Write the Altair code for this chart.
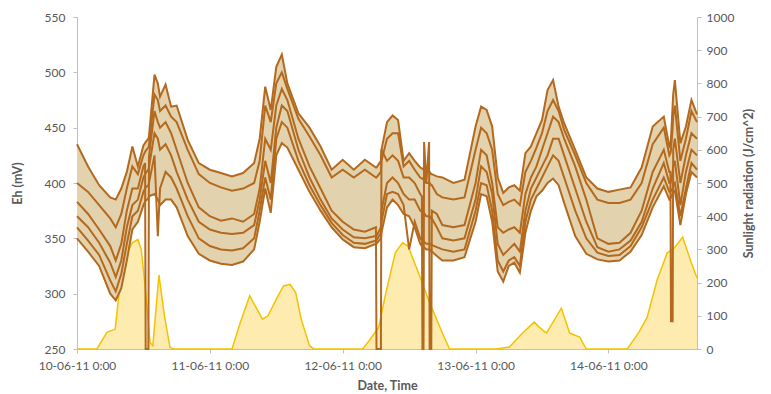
import altair as alt
import pandas as pd

# ---- Eh electrode series (mV), hours after 10-06-11 0:00 ----
hours = [0, 2, 4, 6, 7, 8, 9, 10, 11, 12, 12.3, 12.4, 12.9, 13, 14, 14.6, 15, 16, 17, 18,
         20, 22, 24, 26, 28, 30, 32, 33, 34, 35, 36, 37, 38, 40, 42, 44, 46, 48, 50, 52,
         54, 54.1, 54.9, 55, 56, 57, 58, 59, 60, 61, 62, 62.3, 62.4, 62.6, 62.7, 63.1, 63.6,
         63.7, 64.0, 64.1, 65, 66, 68, 70, 72, 73, 74, 75, 76, 77, 78, 79, 80, 81, 82, 83,
         84, 85, 86, 87, 88, 90, 92, 94, 96, 98, 100, 102, 104, 106, 107, 107.2, 107.3,
         107.6, 107.7, 108, 109, 110, 111, 112]

eh_1 = [435, 415, 398, 387, 385, 395, 410, 433, 415, 434, 436, 437, 440, 442, 498, 490, 478, 489, 469, 470,
        439, 418, 412, 409, 406, 409, 418, 440, 487, 466, 505, 516, 490, 463, 450, 433, 412, 421, 412, 421,
        414, 414, 420, 430, 455, 461, 457, 420, 427, 420, 414, 413, 413, 412, 412, 410, 410,
        410, 408, 408, 406, 405, 400, 403, 451, 469, 466, 451, 405, 391, 396, 398, 393, 427, 433, 445,
        457, 484, 493, 469, 454, 430, 405, 395, 392, 394, 396, 414, 451, 460, 433, 435, 440,
        470, 480, 493, 436, 451, 475, 462]
eh_2 = [400, 392, 380, 368, 360, 372, 395, 415, 408, 425, 428, 429, 432, 434, 480, 475, 465, 470, 460, 455,
        430, 408, 400, 396, 393, 395, 400, 420, 470, 455, 490, 500, 485, 458, 442, 425, 405, 412, 405, 412,
        405, 405, 410, 420, 440, 445, 445, 415, 420, 412, 405, 404, 404, 403, 403, 400, 400,
        400, 398, 398, 390, 387, 385, 387, 430, 450, 445, 430, 390, 380, 383, 385, 380, 410, 420, 432,
        445, 465, 475, 465, 448, 425, 400, 385, 382, 382, 385, 400, 435, 450, 425, 427, 430,
        450, 460, 470, 420, 440, 465, 455]
eh_3 = [383, 372, 358, 343, 330, 345, 375, 395, 395, 415, 418, 250, 250, 424, 465, 455, 450, 455, 445, 430,
        400, 378, 370, 366, 368, 365, 372, 395, 440, 430, 470, 485, 475, 440, 415, 395, 375, 365, 358, 356,
        360, 250, 250, 430, 420, 425, 420, 405, 405, 400, 390, 388, 250, 250, 437, 400, 437,
        250, 250, 375, 372, 362, 360, 362, 400, 430, 425, 400, 360, 355, 358, 360, 355, 390, 405, 415,
        430, 445, 460, 455, 440, 415, 385, 350, 345, 346, 355, 375, 410, 430, 410, 410, 275,
        275, 430, 440, 400, 425, 445, 440]
eh_4 = [370, 360, 346, 328, 315, 330, 360, 380, 385, 405, 408, 409, 412, 414, 445, 440, 430, 435, 425, 410,
        385, 365, 358, 355, 354, 355, 362, 385, 420, 400, 450, 470, 465, 430, 405, 385, 368, 358, 351, 350,
        352, 352, 360, 375, 400, 405, 400, 390, 385, 385, 375, 374, 374, 373, 373, 370, 370,
        370, 368, 368, 360, 350, 348, 350, 385, 415, 410, 390, 345, 335, 340, 345, 338, 375, 395, 405,
        415, 425, 440, 440, 425, 395, 365, 342, 338, 340, 348, 365, 395, 418, 400, 400, 402,
        410, 415, 420, 380, 410, 430, 425]
eh_5 = [360, 348, 335, 312, 302, 318, 345, 370, 375, 392, 395, 396, 398, 400, 425, 352, 395, 410, 405, 395,
        370, 350, 343, 340, 339, 341, 350, 375, 405, 385, 440, 455, 450, 420, 398, 380, 364, 353, 346, 345,
        348, 348, 355, 365, 390, 392, 390, 380, 340, 365, 350, 348, 348, 347, 347, 345, 345,
        345, 344, 344, 342, 340, 338, 340, 375, 400, 398, 375, 330, 320, 330, 333, 325, 365, 385, 395,
        405, 415, 425, 420, 405, 375, 350, 337, 334, 335, 343, 360, 385, 405, 392, 392, 393,
        395, 398, 400, 370, 395, 418, 412]
eh_6 = [350, 338, 325, 300, 294, 305, 330, 358, 365, 380, 383, 384, 386, 388, 390, 385, 380, 385, 385, 378,
        352, 336, 330, 327, 326, 329, 340, 365, 395, 373, 425, 436, 432, 412, 392, 375, 360, 349, 342, 341,
        345, 345, 350, 355, 378, 385, 380, 372, 370, 360, 345, 343, 343, 342, 342, 340, 340,
        340, 338, 338, 334, 330, 330, 333, 365, 390, 388, 365, 320, 311, 325, 328, 319, 355, 375, 388,
        393, 400, 404, 398, 382, 352, 336, 331, 329, 330, 338, 353, 378, 397, 385, 386, 387,
        390, 392, 393, 362, 390, 410, 405]

# ---- Sunlight radiation (J/cm^2) ----
sun_hours = [0, 3.6, 5.4, 6.9, 7.8, 8.8, 10, 11, 11.6, 12.3, 13.2, 13.7, 14.8, 15.8, 16.8, 17.5,
             28, 29.5, 31.2, 32.2, 33.5, 34.5, 36, 37.3, 38.5, 39.5, 40.5, 42, 42.8,
             51.6, 53, 54.5, 55.8, 57.5, 58.8, 59.8, 61.7, 63.5, 66, 67.3,
             75.8, 78.1, 80.5, 82.6, 83.5, 84.8, 87.5, 89, 90.8, 92,
             99.4, 101.5, 103, 104.8, 106.6, 107.9, 109.4, 111, 112]
sun_vals = [0, 0, 50, 60, 200, 280, 320, 330, 300, 190, 20, 10, 223, 100, 5, 0,
            0, 80, 160, 130, 90, 100, 150, 190, 195, 170, 90, 10, 0,
            0, 30, 66, 170, 290, 320, 310, 229, 148, 48, 0,
            0, 6, 48, 81, 66, 48, 123, 48, 36, 0,
            0, 50, 96, 208, 289, 304, 337, 259, 214]

day_ticks = [0, 24, 48, 72, 96]
day_labels = ["10-06-11 0:00", "11-06-11 0:00", "12-06-11 0:00", "13-06-11 0:00", "14-06-11 0:00"]
eh_ticks = [250, 300, 350, 400, 450, 500, 550]
sun_ticks = [0, 100, 200, 300, 400, 500, 600, 700, 800, 900, 1000]

wide = pd.DataFrame({"h": hours, "L1": eh_1, "L2": eh_2, "L3": eh_3,
                     "L4": eh_4, "L5": eh_5, "L6": eh_6})
long = wide.melt("h", var_name="series", value_name="eh")
sun = pd.DataFrame({"h": sun_hours, "sun": sun_vals})

FONT = "Lato"
axis_style = dict(domainColor="#bfbfbf", tickColor="#bfbfbf", labelColor="#595959",
                  labelFont=FONT, labelFontSize=12, titleFont=FONT, titleFontSize=12.5,
                  titleColor="#595959", titleFontWeight="bold", tickSize=4, grid=False,
                  labelOverlap=False)

label_expr = "[" + ",".join("'%s'" % s for s in day_labels) + "][round(datum.value/24)]"
x_enc = alt.X("h:Q", scale=alt.Scale(domain=[0, 112], nice=False, zero=False),
              axis=alt.Axis(values=day_ticks, labelExpr=label_expr, title="Date, Time",
                            labelPadding=7, titlePadding=8, labelFlush=False, **axis_style))

eh_scale = alt.Scale(domain=[250, 550], nice=False, zero=False)
eh_axis = alt.Axis(orient="left", values=eh_ticks, title="Eh (mV)", labelPadding=8,
                   titlePadding=20, **axis_style)

sun_layer = alt.Chart(sun).mark_area(
    color="#fdebb0", opacity=1,
    line=alt.OverlayMarkDef(color="#f3c300", strokeWidth=1.5)
).encode(
    x=x_enc,
    y=alt.Y("sun:Q", scale=alt.Scale(domain=[0, 1000], nice=False),
            axis=alt.Axis(orient="right", values=sun_ticks, format="d",
                          title="Sunlight radiation (J/cm^2)",
                          titleAngle=270, labelPadding=5, titlePadding=22, **axis_style)),
)

band = alt.Chart(wide).mark_area(color="#e3d2ae", opacity=1).encode(
    x=x_enc,
    y=alt.Y("L1:Q", scale=eh_scale, axis=eh_axis),
    y2="L6:Q",
)

lines = alt.Chart(long).mark_line(color="#b3691e", strokeWidth=2).encode(
    x=x_enc,
    y=alt.Y("eh:Q", scale=eh_scale, axis=eh_axis),
    detail="series:N",
)

chart = alt.layer(sun_layer, alt.layer(band, lines)).resolve_scale(
    y="independent"
).properties(
    width=620, height=332,
    padding={"left": 69, "top": 9, "right": 66, "bottom": 44},
    autosize="none",
).configure_view(stroke=None)

chart.save("out.html", embed_options={"renderer": "svg", "actions": False})
